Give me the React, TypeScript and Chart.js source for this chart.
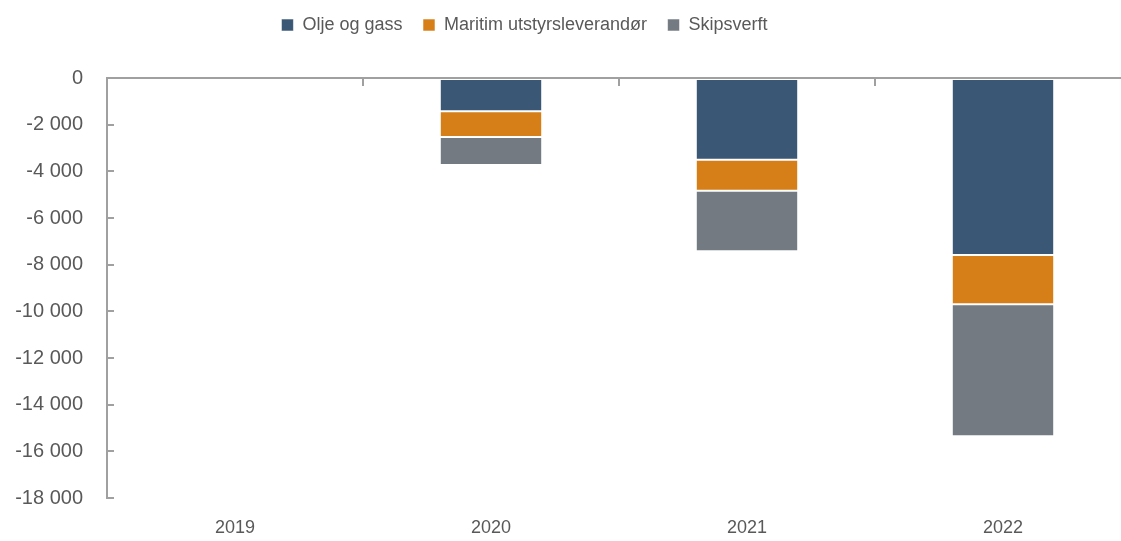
import React, { useEffect, useRef } from 'react';
import { Chart, registerables } from 'chart.js';

Chart.register(...registerables);

const categories = ['2019', '2020', '2021', '2022'];
const oljeOgGass = [null, -1430, -3500, -7590];
const maritimUtstyr = [null, -1100, -1330, -2110];
const skipsverft = [null, -1200, -2600, -5650];
const seriesNames = ['Olje og gass', 'Maritim utstyrsleverandør', 'Skipsverft'];
const seriesColors = ['#3A5775', '#D67E17', '#737A82'];
const yMin = -18000;
const yMax = 0;
const yStep = 2000;

const FONT = "'Liberation Sans', Arial, sans-serif";
const TEXT = '#595959';
const AXIS = '#a0a0a0';

const fmt = (v: number) => {
  const s = Math.abs(v).toString().replace(/\B(?=(\d{3})+(?!\d))/g, ' ');
  return (v < 0 ? '-' : '') + s;
};

const legendPlacer = {
  id: 'legendPlacer',
  afterLayout(chart: any) {
    const l = chart.legend;
    if (!l) return;
    const dx = 524.5 - (l.left + l.right) / 2;
    const dy = -4.5 - l.top;
    l.left += dx;
    l.right += dx;
    l.top += dy;
    l.bottom += dy;
  },
};

export default function App() {
  const ref = useRef<HTMLCanvasElement | null>(null);

  useEffect(() => {
    if (!ref.current) return;
    const values = [oljeOgGass, maritimUtstyr, skipsverft];
    const chart = new Chart(ref.current, {
      type: 'bar',
      data: {
        labels: categories,
        datasets: seriesNames.map((name, i) => ({
          label: name,
          data: values[i] as any,
          backgroundColor: seriesColors[i],
          borderColor: 'rgba(255,255,255,0.55)',
          borderWidth: 1,
          borderSkipped: false,
          categoryPercentage: 0.4,
          barPercentage: 1,
        })),
      },
      options: {
        responsive: false,
        animation: false,
        layout: { padding: { top: 29.5, right: 9, bottom: 0, left: 0 } },
        plugins: {
          tooltip: { enabled: false },
          legend: {
            position: 'top',
            labels: {
              boxWidth: 12,
              boxHeight: 12,
              padding: 20.5,
              color: TEXT,
              font: { family: FONT, size: 18 },
            },
          },
        },
        scales: {
          x: {
            type: 'category',
            stacked: true,
            position: 'bottom',
            offset: true,
            grid: { display: false, drawTicks: false },
            border: { display: false },
            ticks: { color: TEXT, font: { family: FONT, size: 18 }, padding: 19.5, maxRotation: 0 },
            afterFit: (s: any) => {
              s.height = 41;
            },
          },
          x2: {
            type: 'category',
            position: { y: 0 } as any,
            offset: true,
            grid: {
              display: true,
              drawOnChartArea: false,
              drawTicks: true,
              tickLength: 7,
              offset: true,
              color: AXIS,
              lineWidth: 2,
            },
            border: { display: true, color: AXIS, width: 2 },
            ticks: { display: false },
          },
          y: {
            type: 'linear',
            stacked: true,
            min: yMin,
            max: yMax,
            ticks: {
              stepSize: yStep,
              color: TEXT,
              font: { family: FONT, size: 20 },
              padding: 31,
              callback: (v: any) => fmt(Number(v)),
            },
            grid: {
              display: true,
              drawOnChartArea: false,
              drawTicks: true,
              tickLength: -7,
              color: AXIS,
              lineWidth: 2,
            },
            border: { display: true, color: AXIS, width: 2 },
            afterFit: (s: any) => {
              s.width = 107;
            },
          },
        },
      } as any,
      plugins: [legendPlacer],
    });
    return () => chart.destroy();
  }, []);

  return (
    <div
      style={{
        position: 'fixed',
        left: 0,
        top: 0,
        width: 1121,
        height: 541,
        overflow: 'hidden',
        background: '#ffffff',
      }}
    >
      <canvas ref={ref} width={1140} height={541} style={{ display: 'block' }} />
    </div>
  );
}
